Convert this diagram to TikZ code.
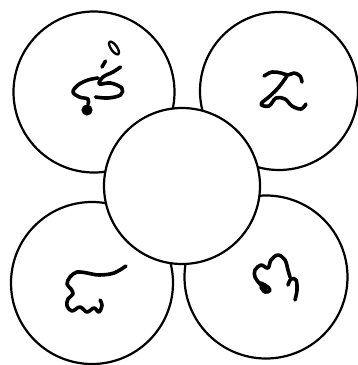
\documentclass[tikz,border=0pt]{standalone}
\begin{document}
\begin{tikzpicture}[x=1pt,y=-1pt,
  disc/.style={circle,draw=black,line width=2.2pt,inner sep=0pt,fill=white},
  glyph/.style={line width=3.6pt,line cap=round,line join=round}]
\useasboundingbox (0,0) rectangle (358,365);
% outer discs
\node[disc,minimum size=161pt] (tl) at (94,92) {};
\node[disc,minimum size=158pt] (tr) at (279,91) {};
\node[disc,minimum size=162pt] (bl) at (92,283) {};
\node[disc,minimum size=163pt] (br) at (266,277) {};
% central disc
\node[disc,minimum size=156pt] (c) at (182,186) {};
% glyph top-left
\draw[glyph,line width=2.4pt,rotate around={-55:(114,48)}] (114,48) ellipse (7.5pt and 3pt);
\draw[glyph] (105.5,61) -- (102,67);
\draw[glyph] plot[smooth,tension=0.6] coordinates {(120.5,67) (113,72) (103,77) (99.3,84) (110.5,83) (121.8,88) (120.5,95) (108,98) (95.5,97)};
\draw[glyph] plot[smooth,tension=0.6] coordinates {(98,78) (88,80) (78,85) (73,92) (79.3,97) (88,99) (88,104)};
\fill (87,110) circle (5.6pt);
% glyph top-right
\draw[glyph] plot[smooth,tension=0.6] coordinates {(264,76) (272,72) (281,73) (288,75) (294,73) (300,76) (302,82)};
\draw[glyph] plot[smooth,tension=0.6] coordinates {(287,76) (279,87) (270,96) (261,104) (269,106) (276,98) (285,99) (292,106) (301,109) (306,104)};
% glyph bottom-left
\draw[glyph] plot[smooth,tension=0.6] coordinates {(126,266) (114,273) (99,275) (87,273) (77,272) (70,277) (67,284) (71,289) (73,294) (68,299) (67,306) (72,311) (80,307) (87,312) (94,308) (99,312) (102,305) (100,300)};
% glyph bottom-right
\draw[glyph] plot[smooth,tension=0.6] coordinates {(266,290) (260,284) (255,277) (255,270) (261,265) (268,268) (271,260) (278,255) (285,260) (288,270) (290,277)};
\draw[glyph] plot[smooth,tension=0.8] coordinates {(260,283) (265,285) (270,290) (265,292) (261,287)};
\draw[glyph] plot[smooth,tension=0.6] coordinates {(288,285) (291,279) (296,280) (297,290) (295,300)};
\end{tikzpicture}
\end{document}
